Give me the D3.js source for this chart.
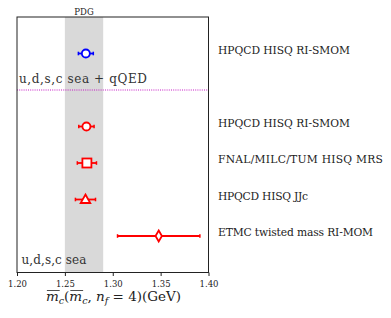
<!DOCTYPE html>
<html><head><meta charset="utf-8">
<script src="https://cdn.jsdelivr.net/npm/d3@7"></script>
<style>body{margin:0;background:#fff}svg{display:block}</style>
</head><body><div id="c"></div>
<script>
const labels = ["HPQCD HISQ RI-SMOM","HPQCD HISQ RI-SMOM","FNAL/MILC/TUM HISQ MRS","HPQCD HISQ JJc","ETMC twisted mass RI-MOM"];
const values = [1.2719, 1.2725, 1.273, 1.2715, 1.348];
const errors = [0.0078, 0.0080, 0.010, 0.0105, 0.043];
const rows = [6, 4, 3, 2, 1];
const shapes = ["circle","circle","square","triangle","diamond"];
const colors = ["#0000ff","#ff0000","#ff0000","#ff0000","#ff0000"];
const pdgBand = [1.25, 1.29];
const xTicks = [1.20, 1.25, 1.30, 1.35, 1.40];
const groupLabels = ["u,d,s,c sea + qQED", "u,d,s,c sea"];
const groupRows = [5.2, 0.22];
const dividerRow = 5;

const FONT = "DejaVu Serif";
const W = 391, H = 318;
const svg = d3.select("#c").append("svg").attr("width", W).attr("height", H)
  .attr("font-family", FONT);
const x = d3.scaleLinear().domain([1.20, 1.40]).range([17, 208.5]);
const y = d3.scaleLinear().domain([0, 7]).range([272.5, 17]);

// fit a text to a target width by tweaking letter spacing only (never squeezing much)
function fit(sel, w) {
  const n = sel.node(), cur = n.getComputedTextLength(), len = sel.text().length;
  if (len > 1) sel.attr("letter-spacing", Math.max(-0.25, (w - cur) / (len - 1)).toFixed(2));
}
const labelWidths = [132, 132, 165, 86, 155];
const groupWidths = [128, 65];

// PDG band
svg.append("rect").attr("x", x(pdgBand[0])).attr("y", y(7)).attr("width", x(pdgBand[1]) - x(pdgBand[0]))
  .attr("height", y(0) - y(7)).attr("fill", "#d9d9d9");
svg.append("text").attr("x", x((pdgBand[0] + pdgBand[1]) / 2)).attr("y", 14.5).attr("text-anchor", "middle")
  .attr("font-size", 8.5).attr("fill", "#222").text("PDG");

// divider
svg.append("line").attr("x1", x(1.20)).attr("x2", x(1.40)).attr("y1", y(dividerRow)).attr("y2", y(dividerRow))
  .attr("stroke", "#c000c0").attr("stroke-width", 0.9).attr("stroke-dasharray", "1,1.2");

// group labels
groupLabels.forEach((t, i) => {
  const s = svg.append("text").attr("x", i === 0 ? 19 : 21.5).attr("y", y(groupRows[i])).attr("font-size", 12)
    .attr("fill", "#333").text(t);
  fit(s, groupWidths[i]);
});

// axis
const ax = svg.append("g").attr("transform", `translate(0,${y(0)})`)
  .call(d3.axisBottom(x).tickValues(xTicks).tickFormat(d3.format(".2f")).tickSize(3.5).tickSizeOuter(0));
ax.select(".domain").remove();
ax.attr("font-family", FONT);
ax.selectAll("text").attr("font-size", 8.5).attr("fill", "#222").attr("dy", "0.95em");
ax.selectAll("line").attr("stroke", "#222");

// frame
svg.append("rect").attr("x", x(1.20)).attr("y", y(7)).attr("width", x(1.40) - x(1.20)).attr("height", y(0) - y(7))
  .attr("fill", "none").attr("stroke", "#222").attr("stroke-width", 1);

// error bars and markers
const labelSel = [];
values.forEach((v, i) => {
  const g = svg.append("g");
  const c = colors[i], cy = y(rows[i]);
  g.append("line").attr("x1", x(v - errors[i])).attr("x2", x(v + errors[i])).attr("y1", cy).attr("y2", cy)
    .attr("stroke", c).attr("stroke-width", 1.8);
  [v - errors[i], v + errors[i]].forEach(e => g.append("line").attr("x1", x(e)).attr("x2", x(e))
    .attr("y1", cy - 1.8).attr("y2", cy + 1.8).attr("stroke", c).attr("stroke-width", 1.5));
  const cx = x(v);
  let m;
  if (shapes[i] === "circle") m = g.append("circle").attr("cx", cx).attr("cy", cy).attr("r", 4);
  else if (shapes[i] === "square") m = g.append("rect").attr("x", cx - 4.5).attr("y", cy - 4.5).attr("width", 9).attr("height", 9);
  else if (shapes[i] === "triangle") m = g.append("path").attr("d", `M${cx},${cy - 5}L${cx + 4.8},${cy + 3.5}L${cx - 4.8},${cy + 3.5}Z`);
  else m = g.append("path").attr("d", `M${cx},${cy - 5.5}L${cx + 3.2},${cy}L${cx},${cy + 5.5}L${cx - 3.2},${cy}Z`);
  m.attr("fill", "#fff").attr("stroke", c).attr("stroke-width", 1.8);
  labelSel.push(svg.append("text").attr("x", 218).attr("y", cy - 3.5).attr("dy", "0.35em").attr("font-size", 10)
    .attr("fill", "#222").text(labels[i]));
});
// common font size that matches the reference widths on average, then small spacing tweak
const ratio = d3.mean(labelSel.filter((s, i) => i !== 3), s => labelWidths[labelSel.indexOf(s)] / s.node().getComputedTextLength());
labelSel.forEach((s, i) => { s.attr("font-size", (10 * ratio).toFixed(2)); fit(s, labelWidths[i]); });

// x label
const xl = svg.append("text").attr("x", 47).attr("y", 301).attr("font-size", 13.5).attr("fill", "#222");
const parts = [["m", true, false, true], ["c", true, true, false], ["(", false, false, false], ["m", true, false, true],
  ["c", true, true, false], [", ", false, false, false], ["n", true, false, false], ["f", true, true, false], [" = 4)(GeV)", false, false, false]];
let prevSub = false;
parts.forEach(([t, it, sub, ov]) => {
  const ts = xl.append("tspan").text(t);
  if (it) ts.attr("font-style", "italic");
  if (sub) ts.attr("font-size", 9.5);
  const dy = (sub ? 3 : 0) - (prevSub ? 3 : 0);
  if (dy) ts.attr("dy", dy);
  prevSub = sub;
});
const xw = xl.node().getComputedTextLength();
xl.attr("x", 113.5 - xw / 2);
// overlines over the two m's
const node = xl.node();
let idx = 0;
parts.forEach(p => {
  if (p[3]) {
    const s = node.getStartPositionOfChar(idx), e = node.getEndPositionOfChar(idx);
    svg.append("line").attr("x1", s.x + 1).attr("x2", e.x + 1).attr("y1", 290.5).attr("y2", 290.5)
      .attr("stroke", "#222").attr("stroke-width", 0.8);
  }
  idx += p[0].length;
});
</script></body></html>
